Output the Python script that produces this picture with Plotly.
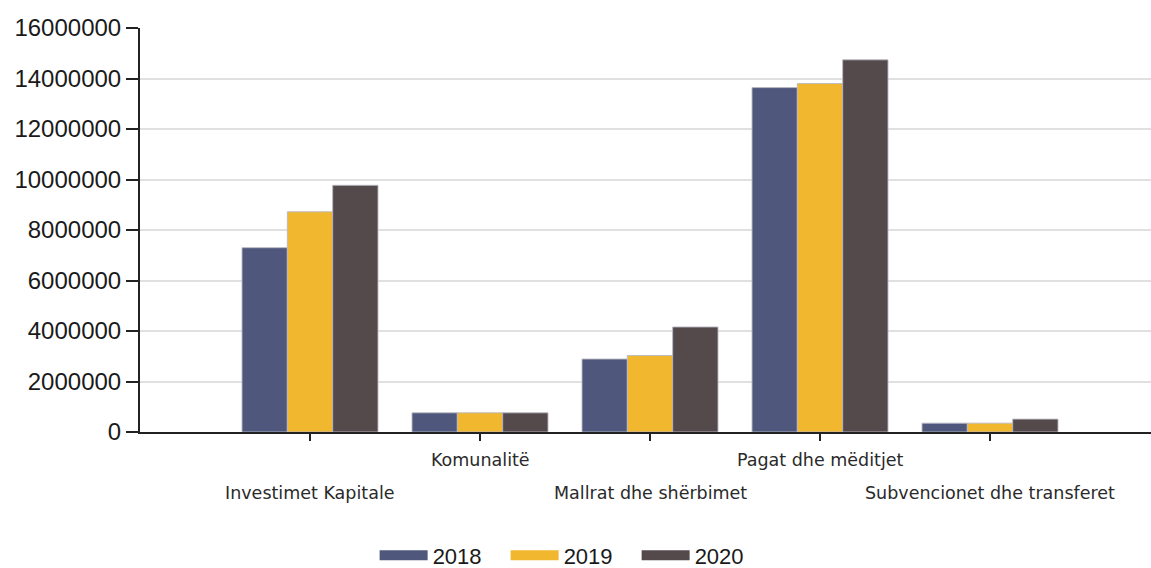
import plotly.graph_objects as go

categories = ["Investimet Kapitale", "Komunalitë", "Mallrat dhe shërbimet",
              "Pagat dhe mëditjet", "Subvencionet dhe transferet"]
years = ["2018", "2019", "2020"]
v2018 = [7300000, 760000, 2890000, 13640000, 350000]
v2019 = [8720000, 760000, 3030000, 13800000, 350000]
v2020 = [9770000, 760000, 4160000, 14740000, 510000]
yticks = [0, 2000000, 4000000, 6000000, 8000000, 10000000, 12000000, 14000000, 16000000]
colors = ["#4f587c", "#f0b72f", "#554a4b"]

fig = go.Figure()
for name, vals, col in zip(years, [v2018, v2019, v2020], colors):
    fig.add_trace(go.Bar(x=categories, y=vals, name=name, showlegend=False,
                         marker=dict(color=col, line=dict(color="rgba(185,185,195,0.9)", width=1))))
# legend swatches (wide rectangles) via thick lines
for name, col in zip(years, colors):
    fig.add_trace(go.Scatter(x=[None], y=[None], mode="lines", name=name,
                             line=dict(color=col, width=18)))

for i, c in enumerate(categories):
    fig.add_annotation(x=c, y=0, xref="x", yref="paper", text=c, showarrow=False,
                       xanchor="center", yanchor="middle",
                       yshift=-28 if i % 2 == 1 else -61,
                       font=dict(family="DejaVu Sans", size=17.5, color="#2a2a2a"))

fig.update_layout(
    width=1151, height=568,
    margin=dict(l=140, r=0, t=28, b=136),
    plot_bgcolor="white", paper_bgcolor="white",
    barmode="group", bargap=0.2, bargroupgap=0,
    font=dict(family="Liberation Sans", color="#1a1a1a"),
    legend=dict(orientation="h", xref="container", yref="container",
                x=0.4962, xanchor="center", y=0.022, yanchor="middle",
                font=dict(family="Liberation Sans", size=22, color="#1a1a1a"),
                itemwidth=48, entrywidth=68, entrywidthmode="pixels",
                bgcolor="rgba(0,0,0,0)"),
)
fig.update_xaxes(type="category", range=[-1, 4.947], showticklabels=False,
                 ticks="outside", ticklen=7, tickwidth=2, tickcolor="#222",
                 showline=True, linecolor="#222", linewidth=2, showgrid=False,
                 zeroline=False)
fig.update_yaxes(range=[0, 16000000], tickvals=yticks,
                 ticktext=[str(v) for v in yticks],
                 ticks="outside", ticklen=12, tickwidth=2, tickcolor="#222",
                 tickfont=dict(family="Liberation Sans", size=24, color="#1a1a1a"),
                 showline=True, linecolor="#222", linewidth=2,
                 showgrid=True, gridcolor="#e0e0e0", gridwidth=1.5, zeroline=False)

fig.write_html("out.html")
